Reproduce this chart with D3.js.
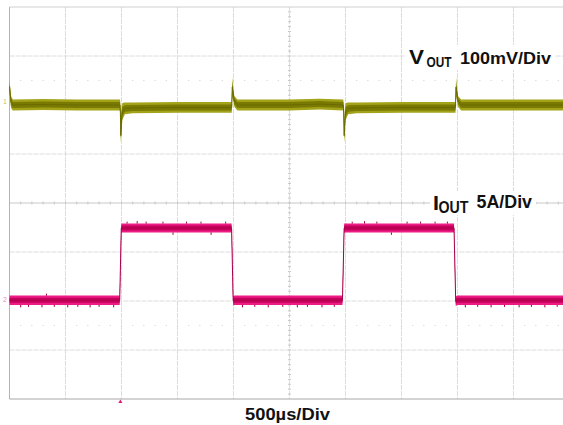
<!DOCTYPE html>
<html>
<head>
<meta charset="utf-8">
<script src="https://cdn.jsdelivr.net/npm/d3@7"></script>
<style>
  html, body { margin: 0; padding: 0; background: #fff; }
  svg { display: block; }
  text { font-family: "Liberation Sans", Arial, sans-serif; font-weight: bold; fill: #111; }
</style>
</head>
<body>
<svg id="stage" width="563" height="425"></svg>
<script>
// Time axis, ms (500 µs/div, 10 divisions)
const timeDomain = [0, 5];

// V_OUT envelope, [time ms, low mV, high mV] (AC, 100 mV/div)
const voutPoints = [
  [0.000, 24, 52], [0.005, 10, 40], [0.014, -6, 18], [0.030, -11, 11],
  [0.300, -10, 12], [0.600, -11, 11], [0.986, -11, 11],
  [0.990, -36, 4], [0.994, -77, -48], [1.000, -56, -6], [1.008, -30, 4],
  [1.030, -19, 5], [1.100, -17, 5], [1.500, -16, 6], [1.984, -16, 6],
  [1.989, 16, 57], [1.995, 12, 40], [2.008, -4, 18], [2.035, -11, 11],
  [2.500, -11, 11], [2.770, -9, 13], [2.980, -11, 11],
  [2.984, -36, 4], [2.988, -77, -48], [2.994, -56, -6], [3.002, -30, 4],
  [3.024, -19, 5], [3.100, -17, 5], [3.500, -16, 6], [3.982, -16, 6],
  [3.987, 16, 57], [3.993, 12, 40], [4.006, -4, 18], [4.033, -11, 11],
  [4.500, -11, 11], [5.000, -11, 11]
];

// I_OUT envelope, [time ms, low A, high A] (5 A/div)
const ioutPoints = [
  [0.000, -0.5, 0.45], [0.984, -0.5, 0.45], [0.998, 6.9, 7.8],
  [1.983, 6.9, 7.8], [1.997, -0.55, 0.4], [2.010, -0.5, 0.45],
  [2.973, -0.5, 0.45], [2.988, 6.9, 7.8], [3.969, 6.9, 7.8],
  [3.984, -0.6, 0.35], [4.000, -0.5, 0.45], [5.000, -0.5, 0.45]
];

// small noise whiskers on I_OUT, [time ms, tip A]
const ioutSpikes = [
  [0.10, -0.75], [0.17, -0.7], [0.29, -0.75], [0.33, 0.65], [0.40, -0.7],
  [0.52, -0.75], [0.61, -0.7], [0.72, -0.75], [0.80, -0.7], [0.93, -0.75],
  [1.05, 8.0], [1.14, 8.05], [1.22, 8.0], [1.37, 8.0], [1.46, 6.65],
  [1.58, 8.0], [1.71, 8.0], [1.80, 6.65], [1.93, 8.0],
  [2.08, -0.75], [2.19, -0.7], [2.31, -0.75], [2.44, -0.7], [2.57, -0.75],
  [2.66, -0.7], [2.79, -0.75], [2.90, -0.7],
  [3.06, 8.0], [3.17, 8.05], [3.28, 8.0], [3.41, 6.65], [3.55, 8.0],
  [3.67, 8.0], [3.80, 8.0], [3.91, 8.0],
  [4.07, -0.75], [4.18, -0.7], [4.30, -0.75], [4.42, -0.7], [4.55, -0.75],
  [4.66, -0.7], [4.78, -0.75], [4.89, -0.7]
];

// channel settings: units per division and zero position (divisions from centre)
const voutScale = 100, voutPos = 2.0;
const ioutScale = 5, ioutPos = -1.98;

const svg = d3.select("#stage");

const x = d3.scaleLinear().domain(timeDomain).range([9.5, 569.5]);
const yDiv = d3.scaleLinear().domain([-4, 4]).range([399, 7]);
const yV = (v) => yDiv(v / voutScale + voutPos);
const yI = (a) => yDiv(a / ioutScale + ioutPos);

// graticule
const grid = svg.append("g");
const xDivs = d3.range(1, 10).map((i) => timeDomain[0] + i * 0.5);
const yDivs = d3.range(-3, 4);

grid.selectAll("line.v").data(xDivs).enter().append("line")
  .attr("x1", (d) => x(d)).attr("x2", (d) => x(d))
  .attr("y1", yDiv(4)).attr("y2", yDiv(-4))
  .attr("stroke", "#dcdcdc").attr("stroke-dasharray", "5,1");
grid.selectAll("line.h").data(yDivs).enter().append("line")
  .attr("x1", x(0)).attr("x2", x(5))
  .attr("y1", (d) => yDiv(d)).attr("y2", (d) => yDiv(d))
  .attr("stroke", (d) => (d === 0 ? "#c8c8c8" : "#dcdcdc"))
  .attr("stroke-dasharray", (d) => (d === 0 ? null : "5,1"));

// minor ticks on centre lines, dotted rows at ±2.5 div
const minorX = d3.range(1, 50).map((i) => i * 0.1);
const minorY = d3.range(-39, 40).map((i) => i * 0.1);
grid.selectAll("line.mx").data(minorX).enter().append("line")
  .attr("x1", (d) => x(d)).attr("x2", (d) => x(d))
  .attr("y1", yDiv(0) - 1.5).attr("y2", yDiv(0) + 1.5)
  .attr("stroke", "#c8c8c8");
grid.selectAll("line.my").data(minorY).enter().append("line")
  .attr("x1", x(2.5) - 1.5).attr("x2", x(2.5) + 1.5)
  .attr("y1", (d) => yDiv(d)).attr("y2", (d) => yDiv(d))
  .attr("stroke", "#c8c8c8");
[2.5, -2.5].forEach((row) => {
  grid.selectAll(null).data(minorX).enter().append("rect")
    .attr("x", (d) => x(d) - 0.5).attr("y", yDiv(row) - 0.5)
    .attr("width", 1).attr("height", 1).attr("fill", "#cfcfcf");
});

// frame
grid.append("line").attr("x1", x(0)).attr("x2", x(5)).attr("y1", yDiv(4)).attr("y2", yDiv(4)).attr("stroke", "#d0d0d0");
grid.append("line").attr("x1", x(0)).attr("x2", x(0)).attr("y1", yDiv(4)).attr("y2", yDiv(-4)).attr("stroke", "#b4b4b4");
grid.append("line").attr("x1", x(0)).attr("x2", x(5)).attr("y1", yDiv(-4)).attr("y2", yDiv(-4)).attr("stroke", "#a8a8a8");

// traces drawn as min/max envelopes with a darker core
const drawTrace = (points, yf, outer, core, line) => {
  const g = svg.append("g");
  g.append("path").datum(points)
    .attr("d", d3.area().x((d) => x(d[0])).y0((d) => yf(d[1])).y1((d) => yf(d[2])))
    .attr("fill", outer);
  g.append("path").datum(points)
    .attr("d", d3.area().x((d) => x(d[0]))
      .y0((d) => yf((d[1] + d[2]) / 2 - (d[2] - d[1]) * 0.28))
      .y1((d) => yf((d[1] + d[2]) / 2 + (d[2] - d[1]) * 0.28)))
    .attr("fill", core);
  g.append("path").datum(points)
    .attr("d", d3.line().x((d) => x(d[0])).y((d) => yf((d[1] + d[2]) / 2)))
    .attr("fill", "none").attr("stroke", line).attr("stroke-width", 1);
  return g;
};

drawTrace(voutPoints, yV, "#a3a31a", "#7a7a02", "#6a6a00");
const iTrace = drawTrace(ioutPoints, yI, "#ec1c84", "#c8005e", "#a8004c");

iTrace.selectAll("line.spike").data(ioutSpikes).enter().append("line")
  .attr("x1", (d) => x(d[0])).attr("x2", (d) => x(d[0]))
  .attr("y1", (d) => yI(d[1] > 3 ? (d[1] > 7.35 ? 7.8 : 6.9) : (d[1] < 0 ? -0.5 : 0.45)))
  .attr("y2", (d) => yI(d[1]))
  .attr("stroke", "#9c0048").attr("stroke-width", 1);

// channel ground markers
svg.append("text").attr("x", 3).attr("y", yV(0) - 1).attr("font-size", 7)
  .style("fill", "#c6c66a").style("font-weight", "normal").text("1");
svg.append("text").attr("x", 3).attr("y", yI(0) + 2).attr("font-size", 7)
  .style("fill", "#ee88bb").style("font-weight", "normal").text("2");

// trigger marker
const trigT = 0.99;
svg.append("path")
  .attr("d", `M${x(trigT) - 2},${yDiv(-4) + 4}L${x(trigT) + 2},${yDiv(-4) + 4}L${x(trigT)},${yDiv(-4) + 0.5}Z`)
  .attr("fill", "#e0157a");

// labels
const label = (parts, box) => {
  svg.append("rect").attr("x", box[0]).attr("y", box[1])
    .attr("width", box[2]).attr("height", box[3]).attr("fill", "#fff");
  parts.forEach(([txt, px, py, size, len]) => {
    svg.append("text").attr("x", px).attr("y", py).attr("font-size", size)
      .attr("textLength", len).attr("lengthAdjust", "spacingAndGlyphs").text(txt);
  });
};

label([
  ["V", 409, 63.5, 19.5, 15],
  ["OUT", 426.5, 67, 14, 25],
  ["100mV/Div", 460, 63.5, 17, 91]
], [405, 45, 150, 25]);

label([
  ["I", 433, 209.5, 19.5, 6],
  ["OUT", 438.5, 213, 16, 30],
  ["5A/Div", 476.5, 207.5, 17.5, 55.5]
], [430, 191, 106, 24]);

svg.append("text").attr("x", 245).attr("y", 420).attr("font-size", 17)
  .attr("textLength", 85).attr("lengthAdjust", "spacingAndGlyphs").text("500µs/Div");
</script>
</body>
</html>
